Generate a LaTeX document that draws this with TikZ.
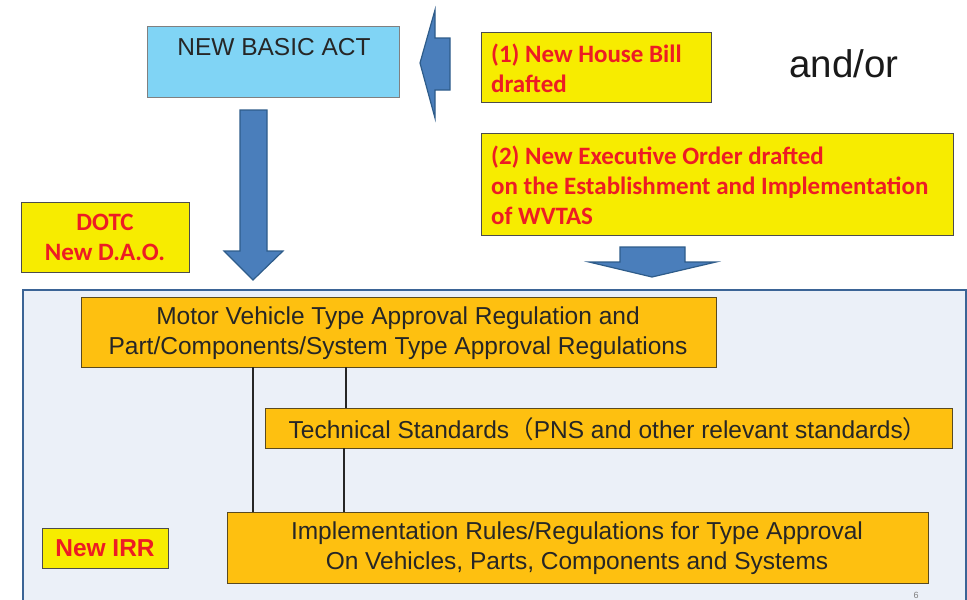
\documentclass[tikz,border=0pt]{standalone}
\usepackage{fontspec}
\setmainfont{Liberation Sans}
\newfontfamily\calb{Carlito}[BoldFont={Carlito Bold}]
\newfontfamily\cjk{Noto Sans CJK SC}
\definecolor{lblue}{RGB}{128,212,245}
\definecolor{arrfill}{RGB}{74,126,187}
\definecolor{arrline}{RGB}{46,92,138}
\definecolor{yel}{RGB}{247,236,0}
\definecolor{redt}{RGB}{237,28,36}
\definecolor{panelfill}{RGB}{235,240,248}
\definecolor{panelline}{RGB}{59,100,150}
\definecolor{orng}{RGB}{254,192,16}
\definecolor{orngline}{RGB}{90,74,31}
\begin{document}
\begin{tikzpicture}[x=1pt,y=-1pt,
  box/.style={draw=#1,line width=1pt,inner sep=0pt,anchor=north west},
  yelbox/.style={box=black!70,fill=yel},
  orbox/.style={box=orngline,fill=orng},
  ortxt/.style={font=\fontsize{24.5}{30}\selectfont,align=center,text=black!85,inner sep=0pt},
  redtxt/.style={text=redt,font=\calb\bfseries\fontsize{25}{30}\selectfont,align=left,anchor=west,inner sep=0pt},
  bluearrow/.style={fill=arrfill,draw=arrline,line width=1.2pt,line join=miter},
  vline/.style={draw=black!85,line width=2pt}]
\useasboundingbox (0,0) rectangle (967,600);
% panel
\node[box=panelline,line width=2pt,fill=panelfill,minimum width=943pt,minimum height=330pt] (panel) at (22,289) {};
% NEW BASIC ACT
\node[box=black!50,fill=lblue,minimum width=252pt,minimum height=71pt] (nba) at (147,26) {};
\node[font=\fontsize{24.5}{28}\selectfont,text=black!85,inner sep=0pt] (nbat) at (274,47) {NEW BASIC ACT};
% left arrow
\draw[bluearrow] (420,63) -- (435,10) -- (435,38) -- (450,38) -- (450,90) -- (435,90) -- (435,118) -- cycle;
% yellow box 1
\node[yelbox,minimum width=230pt,minimum height=70pt] (hb) at (481,32) {};
\node[redtxt] (hbt) at (491,68) {(1) New House Bill\\drafted};
% and/or
\node[font=\fontsize{38.5}{40}\selectfont,text=black!90,inner sep=0pt] (andor) at (844,64) {and/or};
% yellow box 2
\node[yelbox,minimum width=472pt,minimum height=102pt] (eo) at (481,133) {};
\node[redtxt] (eot) at (491,185) {(2) New Executive Order drafted\\on the Establishment and Implementation\\of WVTAS};
% DOTC
\node[yelbox,minimum width=168pt,minimum height=70pt] (dotc) at (21,202) {};
\node[redtxt,align=center,anchor=center] (dotct) at (105,237) {DOTC\\New D.A.O.};
% big down arrow
\draw[bluearrow] (240,110) -- (267,110) -- (267,251) -- (283,251) -- (253,280) -- (224,251) -- (240,251) -- cycle;
% small down arrow
\draw[bluearrow] (620,247) -- (685,247) -- (685,262) -- (716,262) -- (652,277) -- (589,262) -- (620,262) -- cycle;
% orange boxes
\node[orbox,minimum width=635pt,minimum height=70pt] (mv) at (81,297) {};
\node[ortxt] (mvt) at (398,333) {Motor Vehicle Type Approval Regulation and\\Part/Components/System Type Approval Regulations};
\node[orbox,minimum width=687pt,minimum height=40pt] (ts) at (265,408) {};
\node[ortxt] (tst) at (608,429) {Technical Standards{\cjk （}PNS and other relevant standards{\cjk ）}};
\node[orbox,minimum width=701pt,minimum height=71pt] (ir) at (227,512) {};
\node[ortxt] (irt) at (577,548) {Implementation Rules/Regulations for Type Approval\\On Vehicles, Parts, Components and Systems};
% New IRR
\node[yelbox,minimum width=126pt,minimum height=40pt] (irr) at (42,528) {};
\node[text=redt,font=\bfseries\fontsize{24.5}{28}\selectfont,inner sep=0pt] (irrt) at (105,548) {New IRR};
% connectors
\coordinate (c1) at (253,367);
\coordinate (c2) at (346,367);
\coordinate (c3) at (344,448);
\draw[vline] (c1) -- (c1 |- ir.north);
\draw[vline] (c2) -- (c2 |- ts.north);
\draw[vline] (c3) -- (c3 |- ir.north);
% page number
\node[text=black!50,font=\fontsize{9}{9}\selectfont,anchor=south,inner sep=0pt] (pg) at (916,599) {6};
\end{tikzpicture}
\end{document}
